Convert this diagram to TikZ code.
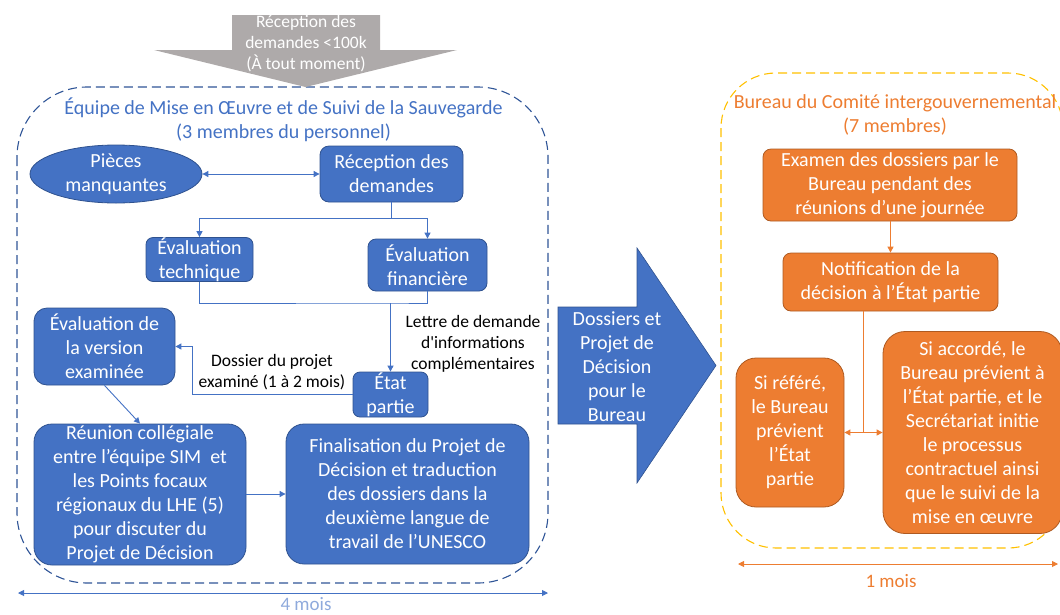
\documentclass[tikz,border=0pt]{standalone}
\usepackage{fontspec}
\setmainfont{Carlito}
\usetikzlibrary{arrows.meta,shapes.geometric}
\definecolor{bluefill}{HTML}{4472C4}
\definecolor{blueline}{HTML}{2F528F}
\definecolor{teamline}{HTML}{2F5597}
\definecolor{orangefill}{HTML}{ED7D31}
\definecolor{orangeline}{HTML}{AE5A21}
\definecolor{bureauline}{HTML}{FFC000}
\definecolor{grayarrow}{HTML}{AEAAAA}
\definecolor{lightblue}{HTML}{8FAADC}
\tikzset{
  boxtext/.style={font=\fontsize{20}{24}\selectfont, align=center, inner sep=0pt},
  bluebox/.style={boxtext, draw=blueline, fill=bluefill, text=white, line width=0.8pt},
  orangebox/.style={boxtext, draw=orangeline, fill=orangefill, text=white, line width=0.8pt},
  labeltext/.style={font=\fontsize{17.5}{21}\selectfont, align=center, inner sep=0pt},
  tip/.style={-{Triangle[length=6pt,width=6pt]}},
  bothtips/.style={{Triangle[length=6pt,width=6pt]}-{Triangle[length=6pt,width=6pt]}},
  blueconn/.style={draw=bluefill, line width=0.9pt},
  orangeconn/.style={draw=orangefill, line width=0.9pt},
  container/.style={dash pattern=on 9pt off 5pt, line width=1.1pt},
}
\begin{document}
\begin{tikzpicture}[x=1pt,y=-1pt]
\useasboundingbox (0,0) rectangle (1060,614);

% dashed group outlines
\draw[container, draw=teamline, rounded corners=70pt] (17,87) rectangle (548,583);
\draw[container, draw=bureauline, rounded corners=55pt] (721,73) rectangle (1063,548);

% incoming requests arrow
\fill[grayarrow] (232,15) -- (380,15) -- (380,50) -- (457,50) -- (305.5,87)
  -- (154,50) -- (232,50) -- cycle;
\node[labeltext, text=white] (incoming) at (306,44)
  {Réception des\\demandes <100k\\(À tout moment)};

% team title
\node[boxtext, text=bluefill] (teamtitle) at (283.5,120)
  {Équipe de Mise en Œuvre et de Suivi de la Sauvegarde\\(3 membres du personnel)};

% team nodes
\node[ellipse, bluebox, minimum width=172pt, minimum height=58pt] (pieces) at (116,174)
  {Pièces\\manquantes};
\node[bluebox, rounded corners=9pt, minimum width=143pt, minimum height=56pt] (recep) at (391.5,174)
  {Réception des\\demandes};
\node[bluebox, rounded corners=7pt, minimum width=107pt, minimum height=43pt] (tech) at (199.5,259.5)
  {Évaluation\\technique};
\node[bluebox, rounded corners=8pt, minimum width=119pt, minimum height=52pt] (fin) at (427.5,265)
  {Évaluation\\financière};
\node[bluebox, rounded corners=13pt, minimum width=141pt, minimum height=77pt] (version) at (104.5,346.5)
  {Évaluation de\\la version\\examinée};
\node[bluebox, rounded corners=7pt, minimum width=75pt, minimum height=45pt] (etat) at (390.5,394.5)
  {État\\partie};
\node[bluebox, rounded corners=18pt, minimum width=212pt, minimum height=141pt] (reunion) at (140,494.5)
  {Réunion collégiale\\entre l’équipe SIM \ et\\les Points focaux\\régionaux du LHE (5)\\pour discuter du\\Projet de Décision};
\node[bluebox, rounded corners=18pt, minimum width=243pt, minimum height=140pt] (final) at (407.5,494)
  {Finalisation du Projet de\\Décision et traduction\\des dossiers dans la\\deuxième langue de\\travail de l’UNESCO};

% connector labels
\node[labeltext] (lettre) at (473,344)
  {Lettre de demande\\d\textquotesingle informations\\complémentaires};
\node[labeltext, font=\fontsize{17.5}{20.5}\selectfont] (dossier) at (272,372)
  {Dossier du projet\\examiné (1 à 2 mois)};

% team connectors
\draw[blueconn, bothtips] (pieces.east) -- (recep.west);
\coordinate (fork) at (391.5,218);
\draw[blueconn] (recep.south) -- (fork);
\draw[blueconn, tip] (fork) -| (tech.north);
\draw[blueconn, tip] (fork) -| (fin.north);
\coordinate (merge) at (390.5,303);
\draw[blueconn] (tech.south) |- (merge) -| (fin.south);
\draw[blueconn, tip] (merge) -- (etat.north);
\coordinate (back) at (192,346.5);
\draw[blueconn, tip] (etat.west) -| (back) -- (version.east);
\draw[blueconn, tip] (version.south) -- (reunion.north);
\draw[blueconn, tip] (reunion.east |- final.west) -- (final.west);

% duration of the team phase
\coordinate (teamstart) at (18,593);
\coordinate (teamend) at (548,593);
\draw[blueconn, bothtips] (teamstart) -- (teamend);
\node[font=\fontsize{19}{23}\selectfont, text=lightblue, inner sep=0pt] (fourmonths) at (306,604) {4 mois};

% hand-over arrow
\fill[bluefill, draw=blueline, line width=0.6pt] (558,307) -- (637,307) -- (637,248) -- (716,365.5)
  -- (637,483) -- (637,424) -- (558,424) -- cycle;
\node[boxtext, text=white] (handover) at (617,366.5)
  {Dossiers et\\Projet de\\Décision\\pour le\\Bureau};

% bureau title
\node[boxtext, text=orangefill] (bureautitle) at (895,115)
  {Bureau du Comité intergouvernemental\\(7 membres)};

% bureau nodes
\node[orangebox, rounded corners=8pt, minimum width=254pt, minimum height=72pt] (examen) at (890,185)
  {Examen des dossiers par le\\Bureau pendant des\\réunions d’une journée};
\node[orangebox, rounded corners=8pt, minimum width=215pt, minimum height=58pt] (notif) at (890.5,282)
  {Notification de la\\décision à l’État partie};
\node[orangebox, rounded corners=20pt, minimum width=108pt, minimum height=149pt] (refere) at (790,432.5)
  {Si référé,\\le Bureau\\prévient\\l’État\\partie};
\node[orangebox, rounded corners=22pt, minimum width=179pt, minimum height=202pt] (accorde) at (972.5,432.5)
  {Si accordé, le\\Bureau prévient à\\l’État partie, et le\\Secrétariat initie\\le processus\\contractuel ainsi\\que le suivi de la\\mise en œuvre};

% bureau connectors
\draw[orangeconn, tip] (examen.south) -- (notif.south |- examen.south) -- (notif.north);
\coordinate (split) at (863,432.5);
\draw[orangeconn] (notif.south -| split) -- (split);
\draw[orangeconn, bothtips] (refere.east) -- (accorde.west);

% duration of the bureau phase
\coordinate (bureaustart) at (738,564);
\coordinate (bureauend) at (1058,564);
\draw[orangeconn, bothtips] (bureaustart) -- (bureauend);
\node[font=\fontsize{19}{23}\selectfont, text=orangefill, inner sep=0pt] (onemonth) at (891,581) {1 mois};
\end{tikzpicture}
\end{document}
